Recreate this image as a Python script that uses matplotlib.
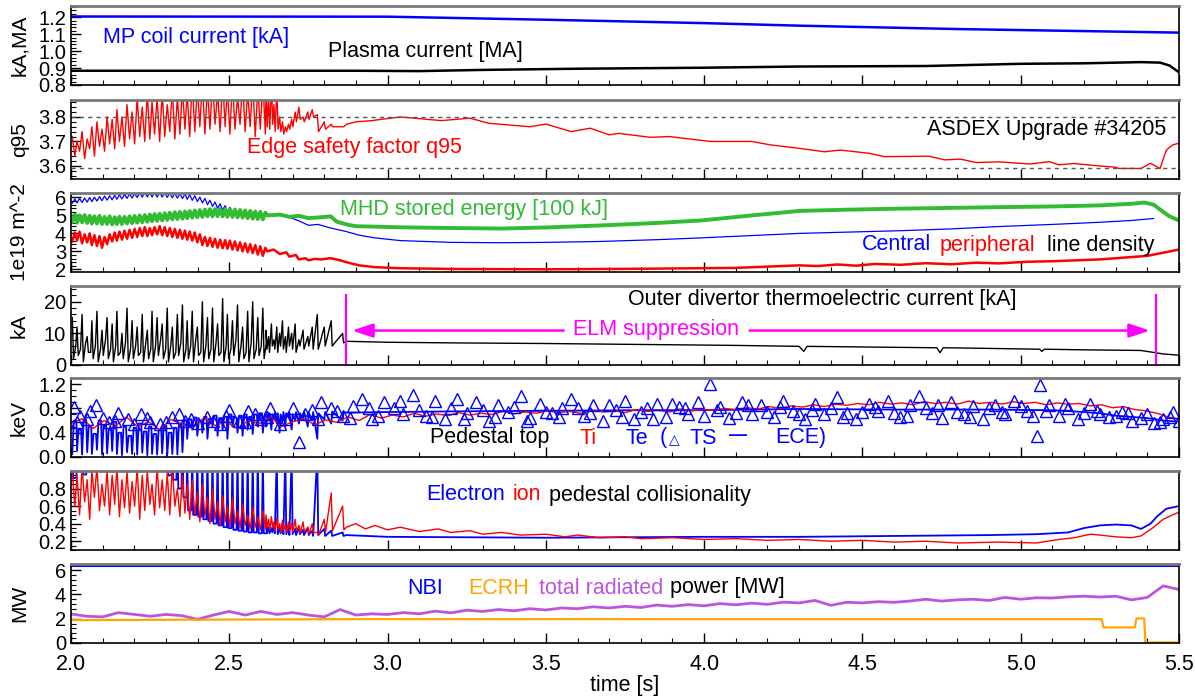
import numpy as np
import matplotlib
matplotlib.use("Agg")
import matplotlib.pyplot as plt
from matplotlib.ticker import MultipleLocator, FormatStrFormatter, NullFormatter

plt.rcParams["font.family"] = ["Liberation Sans", "DejaVu Sans"]
plt.rcParams["font.size"] = 15

BLUE, RED, GREEN = "#0000ff", "#ff0000", "#33bb33"
MAG, ORANGE, PURPLE = "#ff00ff", "#ffa500", "#bb55dd"

# ---------- ELM times (type-I ELMs before suppression) ----------
ELM_T = [2.004, 2.019, 2.035, 2.051, 2.066, 2.082, 2.098, 2.114, 2.130, 2.145,
         2.161, 2.177, 2.193, 2.209, 2.225, 2.241, 2.256, 2.272, 2.288, 2.304,
         2.320, 2.336, 2.352, 2.367, 2.383, 2.399, 2.415, 2.431, 2.447, 2.463,
         2.479, 2.494, 2.510, 2.526, 2.542, 2.558, 2.574, 2.590, 2.606]
ELM_T2 = [2.616, 2.624, 2.633, 2.641, 2.650, 2.659, 2.668, 2.677, 2.687, 2.697,
          2.708, 2.720, 2.733, 2.748, 2.762, 2.778, 2.800, 2.822, 2.858]

# ---------- panel 1: MP coil current, plasma current ----------
MP_T = [2.0, 3.0, 3.5, 4.0, 4.3, 4.8, 5.2, 5.5]
MP_I = [1.204, 1.203, 1.185, 1.165, 1.150, 1.130, 1.118, 1.109]
IP_T = [2.0, 2.9, 3.1, 3.3, 3.6, 4.0, 4.3, 4.7, 5.0, 5.2, 5.38, 5.44, 5.47, 5.5]
IP_I = [0.884, 0.884, 0.882, 0.889, 0.896, 0.902, 0.909, 0.912, 0.925, 0.928,
        0.935, 0.932, 0.915, 0.875]

# ---------- panel 2: q95 ----------
Q_PEAK = [3.72, 3.70, 3.74, 3.71, 3.76, 3.78, 3.75, 3.80, 3.79, 3.83, 3.80, 3.85, 3.82,
          3.88, 3.84, 3.90, 3.86, 3.88, 3.90, 3.85, 3.92, 3.88, 3.92, 3.90, 3.95, 3.92,
          3.95, 3.92, 3.95, 3.90, 3.95, 3.92, 3.95, 3.88, 3.95, 3.90, 3.95, 3.92, 3.95]
Q_LOW = [3.64, 3.66, 3.63, 3.67, 3.64, 3.68, 3.66, 3.69, 3.67, 3.70, 3.68, 3.71, 3.69,
         3.72, 3.70, 3.71, 3.73, 3.70, 3.72, 3.74, 3.71, 3.73, 3.75, 3.72, 3.74, 3.76,
         3.73, 3.75, 3.77, 3.74, 3.76, 3.73, 3.75, 3.77, 3.74, 3.76, 3.72, 3.75, 3.73]
Q2_PEAK = [3.92, 3.88, 3.95, 3.85, 3.92, 3.80, 3.78, 3.76, 3.77, 3.79, 3.82, 3.84, 3.80,
           3.82, 3.83, 3.81, 3.78, 3.77, 3.76]
Q2_LOW = [3.76, 3.75, 3.77, 3.74, 3.75, 3.74, 3.73, 3.74, 3.75, 3.76, 3.78, 3.79, 3.78,
          3.79, 3.80, 3.74, 3.75, 3.76, 3.76]
Q_T = [2.87, 2.9, 2.95, 3.04, 3.17, 3.26, 3.32, 3.45, 3.50, 3.58, 3.64, 3.70, 3.73, 3.83,
       3.89, 4.02, 4.15, 4.21, 4.30, 4.38, 4.43, 4.52, 4.57, 4.71, 4.76, 4.81, 4.86, 4.93,
       5.03, 5.09, 5.12, 5.17, 5.25, 5.30, 5.31, 5.38, 5.41, 5.44, 5.46, 5.48, 5.50]
Q_V = [3.77, 3.78, 3.785, 3.80, 3.785, 3.795, 3.774, 3.76, 3.771, 3.74, 3.754, 3.727,
       3.733, 3.717, 3.72, 3.70, 3.70, 3.686, 3.672, 3.658, 3.665, 3.652, 3.638, 3.64,
       3.625, 3.628, 3.614, 3.617, 3.608, 3.618, 3.605, 3.61, 3.60, 3.595, 3.59, 3.59,
       3.611, 3.59, 3.665, 3.686, 3.693]
Q95_REF = [3.80, 3.59]

# ---------- panel 3: line densities, stored energy ----------
NEC_HI = [5.92, 5.95, 5.97, 6.00, 6.02, 6.05, 6.08, 6.10, 6.12, 6.15, 6.18, 6.20, 6.22,
          6.25, 6.27, 6.28, 6.28, 6.27, 6.27, 6.25, 6.24, 6.22, 6.20, 6.15, 6.10, 6.02,
          5.95, 5.85, 5.75, 5.65, 5.55, 5.45, 5.40, 5.35, 5.32, 5.30, 5.28, 5.25, 5.22]
NEC_LO = [5.68, 5.70, 5.72, 5.74, 5.77, 5.80, 5.82, 5.85, 5.87, 5.90, 5.92, 5.95, 5.97,
          6.00, 6.02, 6.03, 6.03, 6.02, 6.02, 6.00, 5.98, 5.96, 5.94, 5.90, 5.84, 5.77,
          5.70, 5.60, 5.50, 5.40, 5.30, 5.20, 5.15, 5.10, 5.07, 5.05, 5.02, 5.00, 4.97]
NEC_T = [2.62, 2.66, 2.69, 2.72, 2.75, 2.78, 2.82, 2.87, 2.91, 2.96, 3.04, 3.20, 3.36,
         3.50, 3.67, 3.85, 3.99, 4.15, 4.30, 4.45, 4.62, 4.78, 4.93, 5.10, 5.25, 5.35, 5.42]
NEC_V = [5.05, 5.0, 4.9, 4.7, 4.45, 4.5, 4.3, 4.1, 3.9, 3.75, 3.6, 3.5, 3.48, 3.5, 3.55,
         3.65, 3.75, 3.88, 4.0, 4.07, 4.15, 4.25, 4.38, 4.5, 4.62, 4.72, 4.83]
W_HI = [5.05, 5.00, 5.02, 4.98, 4.95, 4.98, 4.92, 4.95, 4.90, 4.93, 4.92, 4.95, 4.97,
        5.00, 5.02, 5.05, 5.08, 5.10, 5.12, 5.15, 5.18, 5.20, 5.22, 5.25, 5.28, 5.30,
        5.32, 5.35, 5.35, 5.36, 5.35, 5.33, 5.32, 5.30, 5.28, 5.25, 5.22, 5.20, 5.15]
W_LO = [4.65, 4.60, 4.62, 4.58, 4.55, 4.55, 4.52, 4.53, 4.50, 4.52, 4.52, 4.55, 4.57,
        4.60, 4.62, 4.65, 4.68, 4.70, 4.72, 4.75, 4.78, 4.80, 4.82, 4.85, 4.88, 4.90,
        4.92, 4.95, 4.95, 4.96, 4.95, 4.93, 4.92, 4.90, 4.88, 4.85, 4.82, 4.80, 4.78]
W_T = [2.62, 2.66, 2.69, 2.72, 2.75, 2.79, 2.82, 2.84, 2.87, 2.90, 3.04, 3.20, 3.36,
       3.50, 3.67, 3.85, 3.99, 4.15, 4.30, 4.45, 4.62, 4.78, 4.93, 5.10, 5.25, 5.35,
       5.39, 5.42, 5.45, 5.47, 5.50]
W_V = [5.0, 5.05, 4.92, 4.98, 4.85, 4.9, 4.95, 4.65, 4.5, 4.4, 4.34, 4.3, 4.27, 4.33,
       4.44, 4.58, 4.72, 5.0, 5.25, 5.32, 5.38, 5.42, 5.46, 5.5, 5.56, 5.65, 5.72, 5.6,
       5.2, 4.95, 4.72]
NEP_HI = [4.05, 4.10, 3.95, 4.00, 3.90, 3.85, 3.80, 3.95, 4.05, 4.10, 4.15, 4.20, 4.25,
          4.30, 4.35, 4.30, 4.35, 4.40, 4.35, 4.30, 4.25, 4.20, 4.15, 4.10, 4.05, 3.95,
          3.80, 3.75, 3.70, 3.65, 3.62, 3.60, 3.55, 3.50, 3.45, 3.40, 3.35, 3.28, 3.20]
NEP_LO = [3.55, 3.60, 3.45, 3.50, 3.35, 3.30, 3.20, 3.40, 3.55, 3.60, 3.65, 3.70, 3.75,
          3.80, 3.85, 3.85, 3.90, 3.95, 3.90, 3.85, 3.80, 3.75, 3.70, 3.65, 3.60, 3.50,
          3.35, 3.30, 3.25, 3.20, 3.17, 3.15, 3.10, 3.05, 3.00, 2.95, 2.90, 2.82, 2.75]
NEP_T = [2.62, 2.64, 2.66, 2.68, 2.69, 2.71, 2.72, 2.74, 2.75, 2.77, 2.79, 2.82, 2.85,
         2.88, 2.91, 2.96, 3.04, 3.20, 3.50, 3.80, 4.10, 4.30, 4.36, 4.42, 4.48, 4.54,
         4.62, 4.70, 4.78, 4.86, 4.93, 5.02, 5.10, 5.25, 5.40, 5.50]
NEP_V = [3.0, 3.1, 2.85, 2.95, 2.7, 2.8, 2.55, 2.62, 2.5, 2.58, 2.55, 2.62, 2.5, 2.35,
         2.22, 2.12, 2.06, 2.02, 2.0, 2.03, 2.08, 2.22, 2.18, 2.27, 2.2, 2.3, 2.25, 2.34,
         2.28, 2.37, 2.33, 2.42, 2.45, 2.55, 2.75, 3.1]

# ---------- panel 4: divertor thermoelectric current ----------
KA_PEAK = [15, 12, 16, 9, 14, 17, 11, 15, 13, 17, 10, 18, 14, 12, 16, 11, 17, 15, 13, 18,
           12, 16, 19, 14, 17, 12, 20, 15, 18, 13, 21, 16, 14, 19, 12, 17, 20, 15, 18]
KA_LOW = [2, 3, 1, 4, 2, 1, 3, 2, 1, 3, 2, 1, 2, 3, 1, 2, 1, 3, 2, 1,
          2, 3, 1, 2, 1, 3, 1, 2, 1, 3, 1, 2, 3, 1, 2, 1, 2, 3, 2]
KA_MID = [6, 5, 7, 4, 6, 5, 8, 5, 6, 4, 7, 5, 6, 4, 7, 5, 6, 8, 5, 6,
          4, 7, 5, 6, 8, 4, 6, 5, 7, 4, 6, 5, 8, 6, 4, 7, 5, 6, 7]
KA2_PEAK = [11, 9, 13, 8, 12, 10, 14, 9, 12, 10, 13, 8, 11, 9, 12, 16, 12, 14, 10]
KA2_LOW = [5, 4, 6, 5, 4, 6, 5, 4, 6, 5, 4, 6, 5, 6, 5, 5, 6, 6, 7]
KA_T = [2.87, 3.0, 3.2, 3.5, 3.8, 4.1, 4.30, 4.315, 4.325, 4.5, 4.735, 4.745, 4.755, 4.8,
        5.0, 5.06, 5.067, 5.075, 5.2, 5.38, 5.45, 5.5]
KA_V = [7.5, 7.2, 7.0, 6.8, 6.5, 6.2, 5.9, 4.3, 5.9, 5.7, 5.45, 3.9, 5.45, 5.4, 5.1, 5.0,
        4.3, 5.0, 4.8, 4.6, 3.5, 3.1]
SUPP_T = [2.869, 5.427]

# ---------- panel 5: pedestal top temperatures ----------
TI_T = np.arange(101) * 0.035 + 2.0
TI_V = [0.55, 0.63, 0.47, 0.60, 0.51, 0.66, 0.50, 0.58, 0.45, 0.62,
        0.54, 0.49, 0.64, 0.52, 0.58, 0.47, 0.60, 0.55, 0.66, 0.50,
        0.58, 0.63, 0.53, 0.61, 0.57, 0.66, 0.60, 0.70, 0.64, 0.69,
        0.66, 0.72, 0.67, 0.71, 0.68, 0.73, 0.69, 0.72, 0.70, 0.75,
        0.71, 0.74, 0.72, 0.76, 0.73, 0.75, 0.72, 0.77, 0.74, 0.76,
        0.73, 0.78, 0.75, 0.77, 0.74, 0.79, 0.76, 0.78, 0.77, 0.80,
        0.78, 0.81, 0.79, 0.83, 0.80, 0.84, 0.82, 0.86, 0.83, 0.87,
        0.85, 0.88, 0.86, 0.90, 0.87, 0.89, 0.86, 0.91, 0.88, 0.90,
        0.87, 0.92, 0.88, 0.90, 0.87, 0.91, 0.88, 0.90, 0.86, 0.89,
        0.87, 0.88, 0.84, 0.86, 0.81, 0.83, 0.78, 0.76, 0.72, 0.66, 0.62]
TE_LO = [0.05, 0.10, 0.04, 0.08, 0.05, 0.12, 0.04, 0.06, 0.10, 0.05, 0.03, 0.08, 0.05,
         0.04, 0.07, 0.03, 0.05, 0.04, 0.06, 0.03, 0.05, 0.04, 0.08,
         0.30, 0.45, 0.35, 0.40, 0.30, 0.50, 0.35, 0.45, 0.30, 0.50, 0.40, 0.35, 0.45,
         0.38, 0.50, 0.40]
TE_HI = [0.60, 0.45, 0.62, 0.50, 0.38, 0.60, 0.52, 0.45, 0.58, 0.40, 0.50, 0.35, 0.48,
         0.55, 0.42, 0.50, 0.38, 0.45, 0.52, 0.40, 0.48, 0.55, 0.60,
         0.62, 0.65, 0.60, 0.66, 0.63, 0.68, 0.64, 0.66, 0.70, 0.65, 0.68, 0.70, 0.66,
         0.70, 0.72, 0.68]
TE2_LO = [0.50, 0.60, 0.45, 0.62, 0.55, 0.40, 0.60, 0.50, 0.65, 0.45, 0.60, 0.55, 0.62,
          0.50, 0.60, 0.30, 0.62, 0.55, 0.60]
TE2_HI = [0.70, 0.72, 0.70, 0.73, 0.72, 0.70, 0.74, 0.72, 0.73, 0.70, 0.74, 0.72, 0.75,
          0.73, 0.74, 0.72, 0.74, 0.75, 0.74]
TE_T = [2.87, 3.0, 3.2, 3.5, 3.8, 4.0, 4.3, 4.6, 4.9, 5.1, 5.2, 5.25, 5.3, 5.35, 5.4,
        5.45, 5.5]
TE_V = [0.73, 0.74, 0.75, 0.76, 0.77, 0.77, 0.79, 0.78, 0.78, 0.77, 0.74, 0.72, 0.68,
        0.66, 0.64, 0.60, 0.58]
# Thomson scattering Te points
TS_T = [2.01, 2.03, 2.05, 2.08, 2.12, 2.15, 2.18, 2.22, 2.25, 2.28, 2.32, 2.36, 2.40,
        2.43, 2.47, 2.50, 2.53, 2.56, 2.60, 2.63, 2.66, 2.70, 2.72, 2.76, 2.79, 2.82,
        2.86, 2.89, 2.92, 2.95, 2.99, 3.02, 3.05, 3.08, 3.12, 3.15, 3.18, 3.22, 3.25,
        3.28, 3.32, 3.35, 3.38, 3.42, 3.45, 3.48, 3.52, 3.55, 3.58, 3.62, 3.65, 3.68,
        3.72, 3.75, 3.78, 3.82, 3.85, 3.88, 3.92, 3.95, 3.98, 4.02, 4.05, 4.08, 4.12,
        4.15, 4.18, 4.22, 4.25, 4.28, 4.32, 4.35, 4.38, 4.42, 4.45, 4.48, 4.52, 4.55,
        4.58, 4.62, 4.65, 4.68, 4.72, 4.75, 4.78, 4.82, 4.85, 4.88, 4.92, 4.95, 4.98,
        5.02, 5.05, 5.06, 5.09, 5.12, 5.15, 5.18, 5.22, 5.25, 5.28, 5.32, 5.35, 5.38,
        5.42, 5.45, 5.48]
TS_V = [0.82, 0.68, 0.62, 0.86, 0.58, 0.72, 0.62, 0.70, 0.58, 0.55, 0.66, 0.60, 0.56,
        0.66, 0.55, 0.78, 0.60, 0.76, 0.62, 0.80, 0.55, 0.80, 0.24, 0.78, 0.90, 0.80,
        0.68, 0.84, 0.95, 0.62, 0.90, 0.80, 0.70, 1.02, 0.68, 0.92, 0.62, 0.96, 0.72,
        0.90, 0.60, 0.86, 0.74, 1.00, 0.65, 0.88, 0.72, 0.80, 0.95, 0.68, 0.85, 0.60,
        0.78, 0.92, 0.62, 0.80, 0.88, 0.66, 0.82, 0.70, 0.90, 1.20, 0.82, 0.64, 0.90,
        0.70, 0.85, 0.66, 0.92, 0.75, 0.62, 0.88, 0.70, 0.98, 0.72, 0.62, 0.88, 0.76,
        0.92, 0.66, 0.85, 1.00, 0.72, 0.64, 0.90, 0.70, 0.84, 0.62, 0.86, 0.70, 0.92,
        0.75, 0.35, 1.18, 0.85, 0.68, 0.80, 0.62, 0.88, 0.70, 0.66, 0.74, 0.60, 0.64,
        0.56, 0.62, 0.74]
TS2_T = [2.02, 2.06, 2.10, 2.14, 2.20, 2.24, 2.30, 2.34, 2.38, 2.45, 2.49, 2.55, 2.58,
         2.62, 2.68, 2.74, 2.78, 2.84, 2.88, 2.94, 2.97, 3.04, 3.10, 3.14, 3.20, 3.24,
         3.30, 3.34, 3.40, 3.44, 3.50, 3.54, 3.60, 3.64, 3.70, 3.74, 3.80, 3.84, 3.90,
         3.94, 4.00, 4.04, 4.10, 4.14, 4.20, 4.24, 4.30, 4.34, 4.40, 4.44, 4.50, 4.54,
         4.60, 4.64, 4.70, 4.74, 4.80, 4.84, 4.90, 4.94, 5.00, 5.04, 5.08, 5.14, 5.20,
         5.24, 5.30, 5.34, 5.40, 5.44, 5.47, 5.50]
TS2_V = [0.58, 0.75, 0.64, 0.60, 0.55, 0.65, 0.58, 0.70, 0.62, 0.60, 0.68, 0.58, 0.70,
         0.66, 0.62, 0.70, 0.62, 0.75, 0.64, 0.80, 0.68, 0.92, 0.78, 0.66, 0.80, 0.62,
         0.78, 0.66, 0.82, 0.60, 0.74, 0.66, 0.80, 0.72, 0.85, 0.66, 0.74, 0.62, 0.88,
         0.80, 0.68, 0.78, 0.72, 0.86, 0.74, 0.82, 0.70, 0.78, 0.80, 0.66, 0.74, 0.82,
         0.72, 0.68, 0.80, 0.86, 0.74, 0.66, 0.80, 0.74, 0.84, 0.68, 0.76, 0.88, 0.72,
         0.76, 0.68, 0.72, 0.70, 0.58, 0.66, 0.60]

# ---------- panel 6: pedestal collisionality ----------
NUE_HI = [1.5, 1.5, 1.5, 1.5, 1.5, 1.5, 1.5, 1.5, 1.5, 1.5, 1.5, 1.5, 1.5,
          1.5, 1.5, 1.5, 1.5, 1.5, 1.5, 1.5, 1.5, 1.5, 1.5,
          1.2, 1.2, 1.2, 1.2, 1.2, 1.2, 1.2, 1.2, 1.2, 1.2, 1.2, 1.2, 1.2, 1.2, 1.2, 1.2]
NUE_LO = [0.92, 1.10, 0.96, 1.15, 1.05, 1.20, 1.08, 1.15, 1.10, 1.20, 1.05, 1.12, 1.18,
          1.10, 1.15, 1.05, 1.12, 1.08, 1.02, 0.95, 0.90, 0.80, 0.70,
          0.55, 0.50, 0.48, 0.45, 0.43, 0.40, 0.38, 0.36, 0.35, 0.33, 0.32, 0.31, 0.30,
          0.30, 0.29, 0.29]
NUE2_HI = [0.40, 0.36, 0.35, 0.38, 1.2, 0.36, 0.40, 1.2, 0.35, 1.2, 0.34, 0.36, 0.33,
           0.35, 0.32, 1.2, 0.34, 0.32, 0.30]
NUE2_LO = [0.30, 0.29, 0.30, 0.29, 0.28, 0.29, 0.28, 0.28, 0.27, 0.28, 0.27, 0.28, 0.27,
           0.27, 0.26, 0.27, 0.26, 0.26, 0.26]
NUE_T = [2.87, 3.0, 3.5, 4.0, 4.3, 4.6, 4.9, 5.05, 5.15, 5.2, 5.25, 5.3, 5.35, 5.38,
         5.41, 5.43, 5.46, 5.5]
NUE_V = [0.27, 0.25, 0.24, 0.25, 0.25, 0.26, 0.27, 0.28, 0.30, 0.35, 0.38, 0.39, 0.38,
         0.34, 0.40, 0.48, 0.57, 0.60]
NUI_HI = [1.00, 0.95, 1.05, 0.90, 1.00, 1.05, 0.85, 1.00, 0.95, 1.05, 0.90, 1.00, 0.88,
          1.05, 0.95, 1.00, 0.85, 1.05, 0.90, 0.98, 1.05, 0.80, 0.95, 0.85, 0.90, 0.75,
          0.85, 0.70, 0.80, 0.65, 0.72, 0.60, 0.70, 0.55, 0.62, 0.50, 0.58, 0.48, 0.55]
NUI_LO = [0.60, 0.50, 0.65, 0.45, 0.70, 0.55, 0.60, 0.50, 0.62, 0.48, 0.58, 0.52, 0.60,
          0.45, 0.55, 0.62, 0.50, 0.58, 0.55, 0.50, 0.60, 0.48, 0.52, 0.45, 0.50, 0.42,
          0.48, 0.40, 0.45, 0.38, 0.42, 0.36, 0.40, 0.35, 0.38, 0.34, 0.36, 0.33, 0.35]
NUI2_HI = [0.50, 0.45, 0.48, 0.42, 0.46, 0.40, 0.44, 0.38, 0.42, 0.40, 0.45, 0.38, 0.42,
           0.36, 0.40, 0.30, 0.45, 0.75, 0.60]
NUI2_LO = [0.35, 0.33, 0.36, 0.32, 0.34, 0.30, 0.33, 0.30, 0.32, 0.30, 0.32, 0.29, 0.31,
           0.28, 0.30, 0.27, 0.30, 0.32, 0.33]
NUI_T = [2.87, 2.9, 2.93, 2.96, 3.0, 3.04, 3.1, 3.16, 3.2, 3.26, 3.3, 3.36, 3.42, 3.5,
         3.56, 3.6, 3.67, 3.75, 3.8, 3.9, 4.0, 4.1, 4.2, 4.3, 4.4, 4.5, 4.6, 4.7, 4.8,
         4.93, 5.05, 5.12, 5.17, 5.22, 5.25, 5.3, 5.35, 5.38, 5.42, 5.45, 5.48, 5.5]
NUI_V = [0.36, 0.40, 0.34, 0.38, 0.33, 0.36, 0.31, 0.34, 0.30, 0.32, 0.28, 0.30, 0.27,
         0.28, 0.25, 0.27, 0.24, 0.25, 0.23, 0.24, 0.22, 0.23, 0.21, 0.22, 0.20, 0.21,
         0.19, 0.20, 0.18, 0.19, 0.18, 0.22, 0.24, 0.28, 0.27, 0.25, 0.24, 0.26, 0.36,
         0.45, 0.50, 0.53]

# ---------- panel 7: heating and radiated power ----------
NBI_T = [2.0, 5.5]
NBI_P = [6.42, 6.42]
ECRH_T = [2.0, 2.4, 2.9, 5.255, 5.262, 5.360, 5.366, 5.390, 5.394, 5.5]
ECRH_P = [1.88, 1.92, 1.96, 1.96, 1.28, 1.28, 2.02, 2.02, 0.04, 0.04]
PRAD_T = np.arange(71) * 0.05 + 2.0
PRAD_P = [2.39, 2.20, 2.15, 2.50, 2.35, 2.20, 2.35, 2.25, 1.95, 2.30,
          2.60, 2.30, 2.60, 2.35, 2.50, 2.30, 2.15, 2.75, 2.30, 2.40,
          2.35, 2.50, 2.40, 2.62, 2.48, 2.70, 2.60, 2.75, 2.65, 2.82,
          2.72, 2.88, 2.82, 2.98, 2.88, 3.02, 2.92, 3.12, 3.02, 3.16,
          3.06, 3.24, 3.14, 3.28, 3.18, 3.36, 3.30, 3.50, 3.10, 3.35,
          3.30, 3.40, 3.35, 3.45, 3.60, 3.45, 3.55, 3.60, 3.50, 3.75,
          3.60, 3.72, 3.70, 3.80, 3.85, 3.78, 3.85, 3.55, 3.75, 4.70, 4.40]


def pulses(times, offsets, cols):
    """Interleave per-ELM values at time + offset."""
    t, v = [], []
    for i, ti in enumerate(times):
        for off, col in zip(offsets, cols):
            t.append(ti + off)
            v.append(col[i])
    return t, v


def join(*parts):
    t, v = [], []
    for pt, pv in parts:
        t += list(pt)
        v += list(pv)
    return t, v


W, H = 1195, 696
fig = plt.figure(figsize=(W / 100, H / 100), dpi=100)
tops = [6, 100, 193, 286, 378, 471, 564]
ph = 79
L, R = 71, 1179
axes = []
for tp in tops:
    ax = fig.add_axes([L / W, 1 - (tp + ph) / H, (R - L) / W, ph / H])
    ax.set_xlim(2.0, 5.5)
    ax.xaxis.set_major_locator(MultipleLocator(0.5))
    ax.xaxis.set_minor_locator(MultipleLocator(0.1))
    ax.tick_params(axis="both", which="both", direction="in", top=False, right=False,
                   labelsize=14.5)
    ax.tick_params(axis="both", which="major", length=7, width=1)
    ax.tick_params(axis="both", which="minor", length=3.5, width=0.8)
    ax.xaxis.set_major_formatter(NullFormatter())
    for s in ax.spines.values():
        s.set_linewidth(1.2)
    ax.spines["top"].set_color("#777777")
    ax.spines["top"].set_linewidth(2)
    axes.append(ax)
ax1, ax2, ax3, ax4, ax5, ax6, ax7 = axes


def ftext(x, y, s, color="black", ha="left", size=15.5, **kw):
    fig.text(x / W, 1 - y / H, s, color=color, ha=ha, va="center", fontsize=size, **kw)


def ylab(ax, s):
    ax.set_ylabel(s, fontsize=15)
    ax.yaxis.set_label_coords(-0.038, 0.5)


# panel 1
ax1.plot(MP_T, MP_I, color=BLUE, lw=1.8)
ax1.plot(IP_T, IP_I, color="black", lw=1.8)
ax1.set_ylim(0.8, 1.266)
ax1.yaxis.set_major_locator(MultipleLocator(0.1))
ax1.yaxis.set_minor_locator(MultipleLocator(0.02))
ax1.yaxis.set_major_formatter(FormatStrFormatter("%.1f"))
ylab(ax1, "kA,MA")
ftext(103, 38, "MP coil current [kA]", BLUE)
ftext(328, 51, "Plasma current [MA]")

# panel 2
qt, qv = join(pulses(ELM_T, [0.0, 0.008], [Q_PEAK, Q_LOW]),
              pulses(ELM_T2, [0.0, 0.004], [Q2_PEAK, Q2_LOW]), (Q_T, Q_V))
ax2.plot(qt, qv, color=RED, lw=1.0)
for q in Q95_REF:
    ax2.axhline(q, color="#555555", ls=(0, (3, 3)), lw=1)
ax2.set_ylim(3.547, 3.869)
ax2.yaxis.set_major_locator(MultipleLocator(0.1))
ax2.yaxis.set_minor_locator(MultipleLocator(0.02))
ax2.yaxis.set_major_formatter(FormatStrFormatter("%.1f"))
ylab(ax2, "q95")
ftext(247, 148, "Edge safety factor q95", RED)
ftext(1166, 130, "ASDEX Upgrade #34205", ha="right")

# panel 3
ct, cv = join(pulses(ELM_T, [0.0, 0.008], [NEC_LO, NEC_HI]), (NEC_T, NEC_V))
wt, wv = join(pulses(ELM_T, [0.0, 0.008], [W_LO, W_HI]), (W_T, W_V))
pt, pv = join(pulses(ELM_T, [0.0, 0.008], [NEP_LO, NEP_HI]), (NEP_T, NEP_V))
ax3.plot(ct, cv, color=BLUE, lw=0.9)
ax3.plot(pt, pv, color=RED, lw=1.8)
ax3.plot(wt, wv, color=GREEN, lw=2.8)
ax3.set_ylim(1.85, 6.25)
ax3.yaxis.set_major_locator(MultipleLocator(1))
ax3.yaxis.set_minor_locator(MultipleLocator(0.2))
ax3.yaxis.set_major_formatter(FormatStrFormatter("%d"))
ylab(ax3, "1e19 m^-2")
ftext(340, 210, "MHD stored energy [100 kJ]", GREEN)
ftext(862, 245, "Central", BLUE)
ftext(940, 245, "peripheral", RED)
ftext(1047, 245, "line density")

# panel 4
kt, kv = join(pulses(ELM_T, [0.0, 0.004, 0.011], [KA_PEAK, KA_LOW, KA_MID]),
              pulses(ELM_T2, [0.0, 0.003], [KA2_PEAK, KA2_LOW]), (KA_T, KA_V))
ax4.plot(kt, kv, color="black", lw=1.0)
ax4.set_ylim(0, 25)
ax4.yaxis.set_major_locator(MultipleLocator(10))
ax4.yaxis.set_minor_locator(MultipleLocator(2))
ax4.yaxis.set_major_formatter(FormatStrFormatter("%d"))
ax4.vlines(SUPP_T, 0, 22.6, color=MAG, lw=1.6)
arr = dict(arrowstyle="-|>,head_length=0.9,head_width=0.3", color=MAG, lw=1.8,
           mutation_scale=14)
ax4.annotate("", xy=(SUPP_T[0] + 0.01, 10.9), xytext=(3.565, 10.9), arrowprops=arr)
ax4.annotate("", xy=(SUPP_T[1] - 0.01, 10.9), xytext=(4.135, 10.9), arrowprops=arr)
ylab(ax4, "kA")
ftext(822, 300, "Outer divertor thermoelectric current [kA]", ha="center")
ftext(656, 330, "ELM suppression", MAG, ha="center")

# panel 5
et, ev = join(pulses(ELM_T, [0.0, 0.005, 0.013], [TE_LO, TE_HI, TE_HI]),
              pulses(ELM_T2, [0.0, 0.003], [TE2_LO, TE2_HI]), (TE_T, TE_V))
ax5.plot(et, ev, color=BLUE, lw=1.3)
ax5.plot(TI_T, TI_V, color=RED, lw=1.0)
ax5.plot(TS_T, TS_V, ls="none", marker="^", ms=9, mfc="none", mec=BLUE, mew=1.0)
ax5.plot(TS2_T, TS2_V, ls="none", marker="^", ms=9, mfc="none", mec=BLUE, mew=1.0)
ax5.set_ylim(0, 1.3)
ax5.yaxis.set_major_locator(MultipleLocator(0.4))
ax5.yaxis.set_minor_locator(MultipleLocator(0.1))
ax5.yaxis.set_major_formatter(FormatStrFormatter("%.1f"))
ylab(ax5, "keV")
ftext(430, 438, "Pedestal top")
ftext(580, 438, "Ti", RED)
ftext(625, 438, "Te", BLUE)
ftext(660, 438, "(", BLUE)
ftext(669, 440, "\u25b3", BLUE, size=10, family=["DejaVu Sans"])
ftext(690, 438, "TS", BLUE)
ftext(729, 436, "\u2014", BLUE, size=13, fontweight="bold")
ftext(775, 438, "ECE)", BLUE)

# panel 6
nt, nv = join(pulses(ELM_T, [0.0, 0.003, 0.013], [NUE_HI, NUE_LO, NUE_LO]),
              pulses(ELM_T2, [0.0, 0.003], [NUE2_HI, NUE2_LO]), (NUE_T, NUE_V))
it, iv = join(pulses(ELM_T, [0.0, 0.008], [NUI_HI, NUI_LO]),
              pulses(ELM_T2, [0.0, 0.004], [NUI2_HI, NUI2_LO]), (NUI_T, NUI_V))
ax6.plot(nt, nv, color=BLUE, lw=1.3)
ax6.plot(it, iv, color=RED, lw=1.0)
ax6.set_ylim(0.1, 1.0)
ax6.yaxis.set_major_locator(MultipleLocator(0.2))
ax6.yaxis.set_minor_locator(MultipleLocator(0.05))
ax6.yaxis.set_major_formatter(FormatStrFormatter("%.1f"))
ax6.set_yticks([0.2, 0.4, 0.6, 0.8])
ftext(426, 495, "Electron", BLUE)
ftext(513, 495, "ion", RED)
ftext(549, 495, "pedestal collisionality")

# panel 7
ax7.plot(NBI_T, NBI_P, color=BLUE, lw=2.2)
ax7.plot(PRAD_T, PRAD_P, color=PURPLE, lw=2.0)
ax7.plot(ECRH_T, ECRH_P, color=ORANGE, lw=1.6)
ax7.set_ylim(0, 6.5)
ax7.yaxis.set_major_locator(MultipleLocator(2))
ax7.yaxis.set_minor_locator(MultipleLocator(0.4))
ax7.yaxis.set_major_formatter(FormatStrFormatter("%d"))
ax7.xaxis.set_major_formatter(FormatStrFormatter("%.1f"))
ax7.tick_params(axis="x", pad=8, labelsize=15.5)
ylab(ax7, "MW")
ax7.set_xlabel("time [s]", fontsize=15.5, labelpad=0)
ftext(407, 588, "NBI", BLUE)
ftext(468, 588, "ECRH", ORANGE)
ftext(539, 588, "total radiated", PURPLE)
ftext(670, 588, "power [MW]")

fig.savefig("out.png", dpi=100)
